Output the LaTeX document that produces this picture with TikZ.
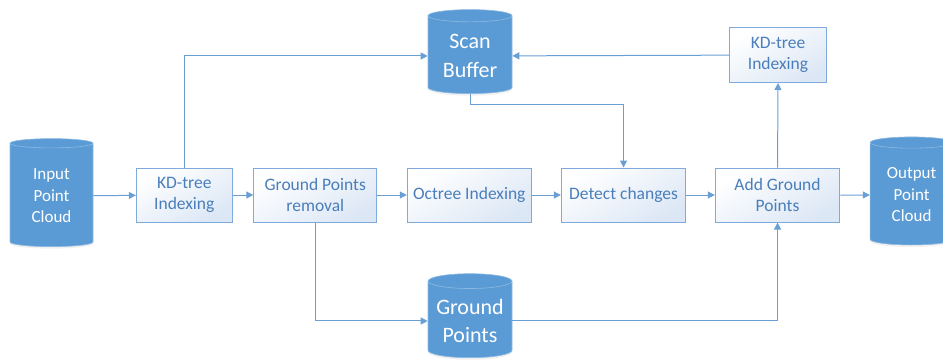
\documentclass[tikz,border=0pt]{standalone}
\usepackage{fontspec}
\setmainfont{Carlito}
\usetikzlibrary{positioning,shapes.geometric,arrows.meta,shadows}
\definecolor{dbblue}{HTML}{5B9BD5}
\definecolor{linkblue}{HTML}{6A9FD6}
\definecolor{boxline}{HTML}{7FAADB}
\definecolor{boxtext}{HTML}{4A7EBB}
\definecolor{boxshade}{HTML}{DCE7F5}

\begin{document}
\begin{tikzpicture}[x=1pt, y=1pt,
  proc/.style={draw=boxline, line width=1pt, top color=white, bottom color=boxshade,
    shading angle=30, text=boxtext, align=center, minimum height=54pt,
    font=\fontsize{17.5}{21.5}\selectfont, inner sep=2pt},
  store/.style={cylinder, shape border rotate=90, aspect=0.2, draw=dbblue!70!white,
    fill=dbblue, text=white, align=center, line width=0.6pt,
    drop shadow={opacity=0.12, shadow xshift=0pt, shadow yshift=-2pt}},
  link/.style={draw=linkblue, line width=1pt, -{Triangle[length=7pt,width=7pt]}}]
\useasboundingbox (0,0) rectangle (943,360);

\node (in) [store, minimum width=83pt, minimum height=108pt,
  font=\fontsize{17}{21.5}\selectfont] at (51.5,164) {Input\\Point\\Cloud};
\node (kd) [proc, minimum width=96pt] at (184.3,165) {KD-tree\\Indexing};
\node (gpr) [proc, minimum width=123pt, right=20.5pt of kd] {Ground Points\\removal};
\node (oct) [proc, minimum width=124pt, right=29.5pt of gpr] {Octree Indexing};
\node (det) [proc, minimum width=124.5pt, right=29pt of oct] {Detect changes};
\node (add) [proc, minimum width=124.5pt, right=28.5pt of det] {Add Ground\\Points};
\node (out) [store, minimum width=83pt, minimum height=108pt,
  font=\fontsize{17}{21.5}\selectfont, right=29.5pt of add] {Output\\Point\\Cloud};
\node (scan) [store, minimum width=84pt, minimum height=84pt,
  font=\fontsize{22}{29}\selectfont] at (470,304) {Scan\\Buffer};
\node (kdup) [proc, minimum width=97pt, minimum height=55pt] at (778,305) {KD-tree\\Indexing};
\node (gnd) [store, minimum width=84pt, minimum height=84pt,
  font=\fontsize{22}{28}\selectfont] at (470,39) {Ground\\Points};

\draw [link] (in) -- (kd);
\draw [link] (kd) -- (gpr);
\draw [link] (gpr) -- (oct);
\draw [link] (oct) -- (det);
\draw [link] (det) -- (add);
\draw [link] (add) -- (out);
\draw [link] (kd.north) |- (scan.west);
\draw [link] (kdup) -- (scan);
\draw [link] (scan.south) -- ++(0,-11) -| (det.north);
\draw [link] (add.north) -- (kdup.south);
\draw [link] (gpr.south) |- (gnd.west);
\draw [link] (gnd.east) -| (add.south);

\end{tikzpicture}
\end{document}
